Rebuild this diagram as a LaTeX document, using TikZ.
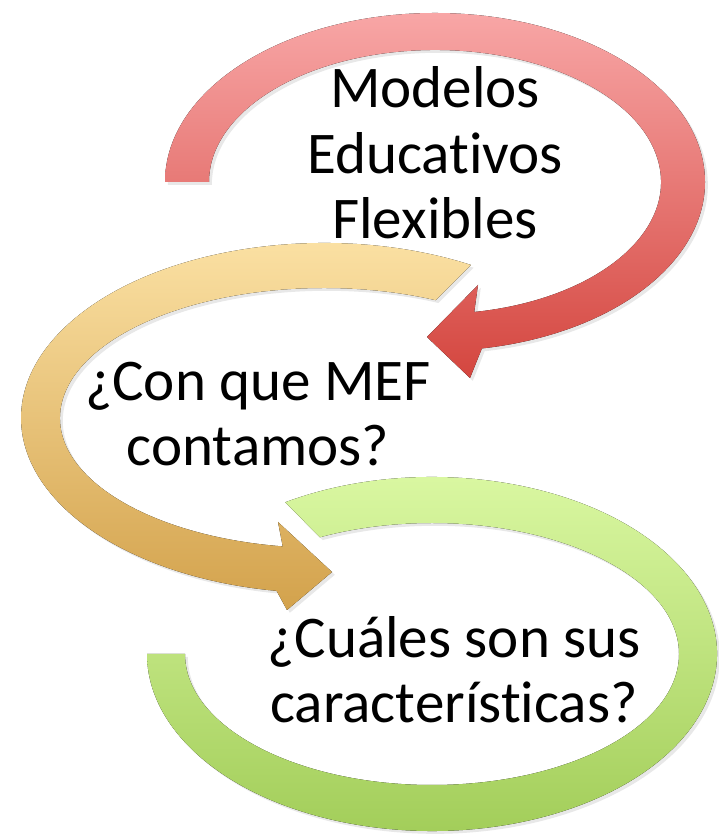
\documentclass[tikz,border=0pt]{standalone}
\usepackage{fontspec}
\setmainfont{Carlito}[Ligatures=NoCommon]
\usetikzlibrary{shadows}
\definecolor{redlight}{HTML}{F8A6A6}
\definecolor{reddark}{HTML}{D4463F}
\definecolor{orangelight}{HTML}{FDE4A8}
\definecolor{orangedark}{HTML}{D3A24C}
\definecolor{greenlight}{HTML}{DDFAA6}
\definecolor{greendark}{HTML}{9FCB55}
\begin{document}
\begin{tikzpicture}[x=0.025cm, y=0.025cm,
	band/.style={draw=none, drop shadow={opacity=0.18, shadow xshift=2pt, shadow yshift=-2pt}},
	label/.style={align=center, inner sep=0pt, font=\fontsize{42}{46.5}\selectfont}]
	\useasboundingbox (0,0) rectangle (718,834);

	% Red arrow
	\def\redcx{435}
	\def\redcy{652}
	\fill[band, top color=redlight, bottom color=reddark]
		(\redcx-270, \redcy) arc[start angle=180, end angle=-80, x radius=270, y radius=169]
		-- (470, 456) -- (427, 497) -- (478, 549)
		-- ({\redcx+226*cos(-80)}, {\redcy+132*sin(-80)})
		arc[start angle=-80, end angle=180, x radius=226, y radius=132] -- cycle;

	% Orange arrow
	\def\orcx{324}
	\def\orcy{416}
	\fill[band, top color=orangelight, bottom color=orangedark]
		({\orcx+303*cos(61)}, {\orcy+175*sin(61)}) arc[start angle=61, end angle=261, x radius=303, y radius=175]
		-- (287, 224) -- (332, 262) -- (278, 312)
		-- ({\orcx+264*cos(261)}, {\orcy+130*sin(261)})
		arc[start angle=261, end angle=65, x radius=264, y radius=130] -- cycle;

	% Green band, no tip
	\def\grcx{432}
	\def\grcy{180}
	\fill[band, top color=greenlight, bottom color=greendark]
		({\grcx+285*cos(121)}, {\grcy+177*sin(121)}) arc[start angle=121, end angle=-180, x radius=285, y radius=177]
		-- (\grcx-247, \grcy)
		arc[start angle=-180, end angle=117, x radius=247, y radius=131] -- cycle;

	\node[label] (modelos) at (435, 681) {Modelos\\Educativos\\Flexibles};
	\node[label] (conque) at (258, 420) {¿Con que MEF\\contamos?};
	\node[label] (cuales) at (454, 164) {¿Cuáles son sus\\características?};
\end{tikzpicture}
\end{document}
